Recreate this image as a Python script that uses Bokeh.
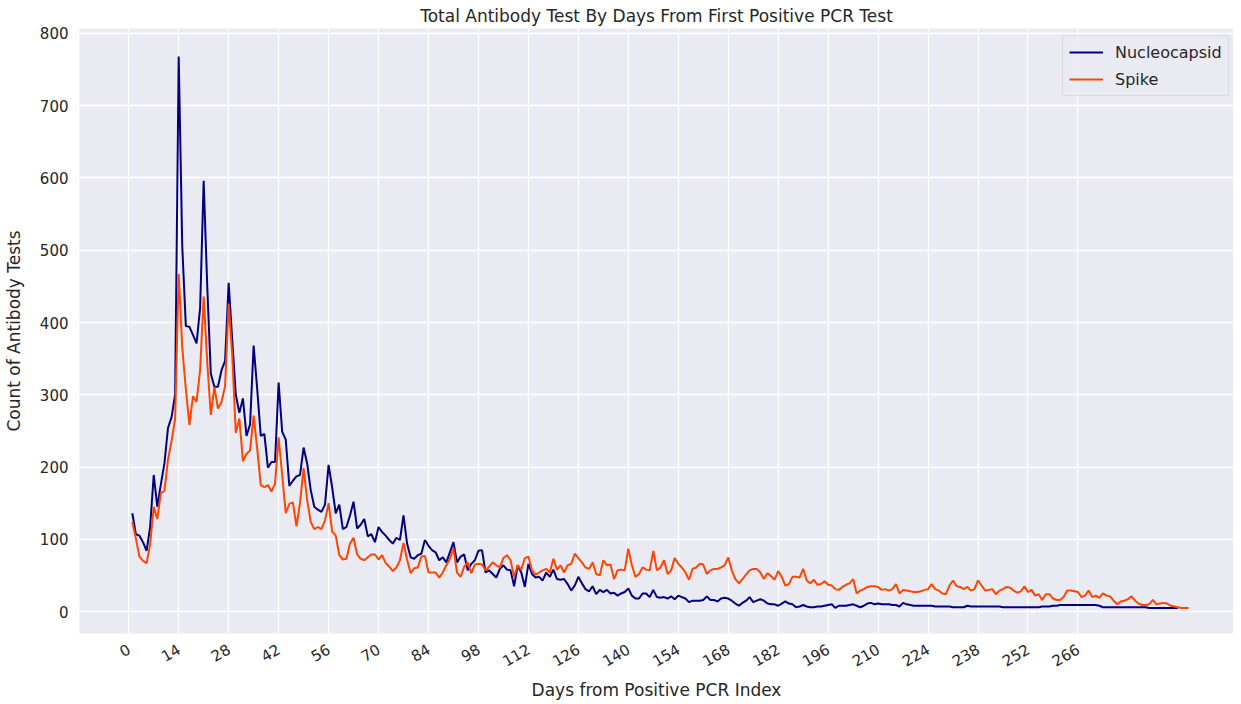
import math
from bokeh.plotting import figure
from bokeh.models import FixedTicker, Range1d
from bokeh.embed import file_html
from bokeh.resources import INLINE

# Daily counts, day 1 onward
nucleocapsid = [
    136, 107, 105, 96, 84, 117, 189, 145, 176, 205, 254, 269, 300, 768, 505, 395, 394, 383, 371, 420,
    596, 450, 329, 311, 311, 334, 347, 455, 376, 300, 275, 295, 243, 259, 368, 308, 243, 246, 199, 207,
    207, 317, 249, 238, 174, 181, 187, 189, 227, 205, 168, 145, 141, 138, 148, 203, 172, 136, 148, 114,
    117, 133, 152, 115, 120, 128, 104, 107, 96, 117, 110, 105, 99, 94, 102, 99, 133, 94, 75, 73,
    78, 80, 99, 91, 85, 82, 71, 75, 68, 82, 96, 68, 76, 79, 57, 66, 71, 84, 85, 54,
    57, 52, 47, 59, 64, 58, 57, 35, 64, 54, 34, 66, 52, 47, 48, 43, 54, 48, 58, 45,
    44, 45, 38, 29, 36, 48, 39, 31, 28, 35, 24, 30, 27, 30, 25, 26, 22, 25, 27, 32,
    22, 18, 18, 25, 25, 20, 30, 20, 19, 20, 18, 21, 17, 22, 20, 18, 13, 15, 15, 15,
    16, 21, 16, 16, 14, 18, 19, 18, 15, 11, 8, 12, 15, 20, 13, 15, 17, 15, 11, 10,
    10, 8, 11, 14, 11, 10, 6, 7, 9, 7, 6, 6, 7, 7, 8, 9, 10, 5, 8, 8,
    8, 9, 10, 8, 6, 8, 11, 12, 10, 11, 10, 10, 10, 9, 9, 7, 12, 10, 9, 8,
    8, 8, 8, 8, 8, 7, 7, 7, 7, 7, 6, 6, 6, 6, 8, 7, 7, 7, 7, 7,
    7, 7, 7, 7, 6, 6, 6, 6, 6, 6, 6, 6, 6, 6, 6, 7, 7, 7, 8, 8,
    9, 9, 9, 9, 9, 9, 9, 9, 9, 9, 9, 8, 6, 6, 6, 6, 6, 6, 6, 6,
    6, 6, 6, 6, 6, 5, 5, 5, 5, 5, 5, 5, 5, 5,
]

spike = [
    124, 101, 76, 70, 67, 93, 145, 128, 164, 167, 210, 236, 267, 467, 365, 308, 258, 298, 290, 334,
    436, 345, 272, 311, 281, 290, 312, 426, 355, 247, 267, 208, 218, 223, 271, 225, 175, 172, 175, 166,
    177, 241, 189, 136, 149, 151, 118, 150, 199, 154, 124, 114, 117, 114, 126, 150, 111, 105, 78, 72,
    73, 94, 102, 79, 73, 71, 75, 79, 79, 72, 78, 67, 62, 56, 61, 71, 95, 72, 53, 60,
    61, 76, 77, 54, 54, 54, 47, 54, 64, 73, 87, 54, 48, 62, 68, 53, 65, 66, 65, 57,
    62, 68, 64, 61, 74, 78, 71, 48, 64, 58, 74, 76, 57, 51, 54, 57, 59, 54, 73, 58,
    64, 54, 64, 66, 80, 74, 68, 61, 59, 68, 52, 50, 71, 64, 65, 45, 57, 58, 57, 87,
    64, 48, 52, 61, 58, 57, 84, 57, 61, 71, 52, 57, 74, 66, 61, 54, 44, 59, 61, 66,
    65, 52, 57, 59, 59, 61, 64, 75, 57, 45, 39, 45, 51, 57, 59, 59, 54, 45, 53, 49,
    44, 56, 48, 36, 38, 48, 48, 47, 59, 43, 39, 44, 37, 38, 42, 37, 36, 31, 30, 34,
    37, 39, 45, 25, 29, 31, 34, 35, 35, 34, 30, 31, 29, 31, 38, 25, 30, 29, 28, 27,
    27, 28, 30, 31, 38, 31, 29, 25, 24, 36, 43, 35, 34, 31, 34, 29, 31, 43, 36, 29,
    30, 31, 24, 29, 31, 34, 33, 29, 26, 28, 35, 27, 30, 22, 24, 16, 24, 24, 18, 16,
    16, 20, 29, 29, 28, 27, 20, 22, 29, 20, 22, 19, 25, 22, 21, 15, 10, 14, 15, 17,
    21, 15, 11, 9, 9, 10, 16, 10, 11, 12, 11, 8, 7, 6, 5, 5, 5,
]

x_ticks = [0, 14, 28, 42, 56, 70, 84, 98, 112, 126, 140, 154, 168, 182, 196, 210, 224, 238, 252, 266]
y_ticks = [0, 100, 200, 300, 400, 500, 600, 700, 800]

days_n = list(range(1, len(nucleocapsid) + 1))
days_s = list(range(1, len(spike) + 1))

TXT = "#262626"
FONT = "DejaVu Sans"

p = figure(frame_width=1154, frame_height=605, output_backend="svg", toolbar_location=None,
           x_range=Range1d(-13.8, 309.6), y_range=Range1d(-30.4, 806.9),
           min_border_left=71, min_border_right=0, min_border_top=20, min_border_bottom=63,
           background_fill_color="#EAEAF2", border_fill_color="white")

p.title.text = "Total Antibody Test By Days From First Positive PCR Test"
p.title.align = "center"
p.title.text_font = FONT
p.title.text_font_size = "17px"
p.title.text_font_style = "normal"
p.title.text_color = TXT
p.title.standoff = 6

p.outline_line_color = None

p.line(days_n, nucleocapsid, line_color="navy", line_width=2, legend_label="Nucleocapsid")
p.line(days_s, spike, line_color="orangered", line_width=2, legend_label="Spike")

p.xaxis.ticker = FixedTicker(ticks=x_ticks)
p.yaxis.ticker = FixedTicker(ticks=y_ticks)
p.xaxis.major_label_orientation = math.pi / 6
p.xaxis.axis_label = "Days from Positive PCR Index"
p.yaxis.axis_label = "Count of Antibody Tests"

for ax in (p.xaxis, p.yaxis):
    ax.axis_line_color = None
    ax.major_tick_line_color = None
    ax.minor_tick_line_color = None
    ax.major_tick_out = 0
    ax.major_tick_in = 0
    ax.major_label_text_font = FONT
    ax.major_label_text_font_size = "15px"
    ax.major_label_text_color = TXT
    ax.axis_label_text_font = FONT
    ax.axis_label_text_font_size = "17px"
    ax.axis_label_text_font_style = "normal"
    ax.axis_label_text_color = TXT

p.xaxis.major_label_standoff = 14
p.xaxis.axis_label_standoff = 5
p.xaxis.axis_label_text_line_height = 0.9
p.yaxis.major_label_standoff = 11
p.yaxis.axis_label_standoff = 13

p.grid.grid_line_color = "white"
p.grid.grid_line_width = 1.3

lg = p.legend[0]
lg.location = (983, 537)
lg.padding = 6
lg.spacing = 7
lg.glyph_width = 34
lg.glyph_height = 20
lg.label_height = 20
lg.label_standoff = 12
lg.label_text_font = FONT
lg.label_text_font_size = "16px"
lg.label_text_color = TXT
lg.background_fill_color = "#EAEAF2"
lg.background_fill_alpha = 0.8
lg.border_line_color = "#cccccc"
lg.border_line_width = 1

open("out.html", "w").write(file_html(p, INLINE))
